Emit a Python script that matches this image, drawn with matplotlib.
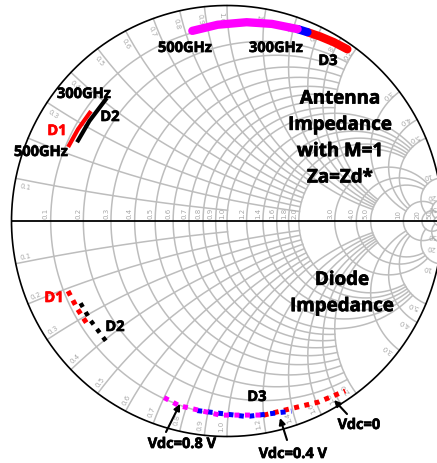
import numpy as np
import matplotlib.pyplot as plt
import matplotlib.patheffects as pe

# Smith chart grid (value, cut-off), MATLAB smithplot style
grid_vals = [50, 20, 10, 5, 4, 3, 2, 1.8, 1.6, 1.4, 1.2, 1.0, 0.9, 0.8, 0.7, 0.6, 0.5, 0.4, 0.3, 0.2, 0.1]
grid_cut = [np.inf, 50, 20, 10, 10, 10, 5, 5, 5, 5, 5, 5, 2, 2, 2, 2, 2, 2, 2, 2, 1]
grid_labels = ['50', '20', '10', '5.0', '4.0', '3.0', '2.0', '1.8', '1.6', '1.4', '1.2', '1.0',
               '0.9', '0.8', '0.7', '0.6', '0.5', '0.4', '0.3', '0.2', '0.1']

# antenna impedance (normalised r, x), upper half
ant_d1_r = [0.108, 0.112, 0.117]
ant_d1_x = [0.219, 0.28, 0.349]
ant_d2_r = [0.127, 0.130, 0.132]
ant_d2_x = [0.243, 0.32, 0.415]
ant_d3_08_r = [0.092, 0.088, 0.084, 0.082, 0.080]
ant_d3_08_x = [0.83, 0.95, 1.10, 1.25, 1.43]
ant_d3_04_r = [0.080, 0.080]
ant_d3_04_x = [1.43, 1.51]
ant_d3_0_r = [0.080, 0.076, 0.070, 0.064]
ant_d3_0_x = [1.51, 1.62, 1.76, 1.92]

# diode impedance, lower half
dio_d1_r = [0.112, 0.116, 0.119]
dio_d1_x = [-0.208, -0.27, -0.335]
dio_d2_r = [0.131, 0.134, 0.136]
dio_d2_x = [-0.242, -0.32, -0.405]
dio_d3_08_r = [0.104, 0.097, 0.100, 0.106]
dio_d3_08_x = [-0.70, -0.77, -0.96, -1.21]
dio_d3_04_r = [0.100, 0.102, 0.104]
dio_d3_04_x = [-0.85, -1.10, -1.39]
dio_d3_0_r = [0.106, 0.110, 0.094]
dio_d3_0_x = [-1.20, -1.62, -1.91]


def gamma(r, x):
    z = np.asarray(r) + 1j * np.asarray(x)
    return (z - 1) / (z + 1)


W, H = 437, 464
cx, cy, R = 227, 222, 215.5  # chart centre / radius in pixels

fig = plt.figure(figsize=(W / 100, H / 100), dpi=100)
ax = fig.add_axes([0, 0, 1, 1])
ax.set_xlim(-cx / R, (W - cx) / R)
ax.set_ylim(-(H - cy) / R, cy / R)
ax.axis('off')

gcol = '#bdbdbd'
lcol = '#a8a8a8'

# grid
for v, cut, lab in zip(grid_vals, grid_cut, grid_labels):
    t = np.linspace(-np.arctan(cut), np.arctan(cut), 400)
    g = gamma(v, np.tan(t))
    ax.plot(g.real, g.imag, color=gcol, lw=1.1, zorder=1)
    for s in (1, -1):
        t = np.linspace(0, np.arctan(cut), 400)
        g = gamma(np.tan(t), s * v)
        ax.plot(g.real, g.imag, color=gcol, lw=1.1, zorder=1)
        # rim label
        g0 = gamma(0, s * v)
        th = np.angle(g0)
        th2 = th + s * 0.012
        ax.text(0.975 * np.cos(th2), 0.975 * np.sin(th2), lab, fontsize=5, color=lcol,
                rotation=np.degrees(th) + 180, rotation_mode='anchor',
                ha='left', va='bottom' if s < 0 else 'top', zorder=2)
    gr = (v - 1) / (v + 1)
    ax.text(gr - 0.008, 0.012, lab, fontsize=5, color=lcol, rotation=90,
            rotation_mode='anchor', ha='left', va='bottom', zorder=2)

th = np.linspace(0, 2 * np.pi, 600)
ax.plot(np.cos(th), np.sin(th), color='black', lw=1.2, zorder=3)
ax.plot([-1, 1], [0, 0], color='black', lw=1.3, zorder=3)

# antenna impedance
g = gamma(ant_d1_r, ant_d1_x)
ax.plot(g.real, g.imag, color='red', lw=3, solid_capstyle='butt', zorder=4)
g = gamma(ant_d2_r, ant_d2_x)
ax.plot(g.real, g.imag, color='black', lw=3, solid_capstyle='butt', zorder=4)
g = gamma(ant_d3_0_r, ant_d3_0_x)
ax.plot(g.real, g.imag, color='red', lw=6, solid_capstyle='round', zorder=4)
g = gamma(ant_d3_04_r, ant_d3_04_x)
ax.plot(g.real, g.imag, color='blue', lw=6, solid_capstyle='round', zorder=5)
g = gamma(ant_d3_08_r, ant_d3_08_x)
ax.plot(g.real, g.imag, color='magenta', lw=6, solid_capstyle='round', zorder=5)

# diode impedance (dotted)
dots = (0, (1, 1.1))
g = gamma(dio_d1_r, dio_d1_x)
ax.plot(g.real, g.imag, color='red', lw=3.6, ls=dots, dash_capstyle='butt', zorder=4)
g = gamma(dio_d2_r, dio_d2_x)
ax.plot(g.real, g.imag, color='black', lw=3.2, ls=(1.2, (1, 1.3)), dash_capstyle='butt', zorder=4)
g = gamma(dio_d3_0_r, dio_d3_0_x)
ax.plot(g.real, g.imag, color='red', lw=3.6, ls=dots, dash_capstyle='butt', zorder=4)
g = gamma(dio_d3_04_r, dio_d3_04_x)
ax.plot(g.real, g.imag, color='blue', lw=3.6, ls=dots, dash_capstyle='butt', zorder=4)
g = gamma(dio_d3_08_r, dio_d3_08_x)
ax.plot(g.real, g.imag, color='magenta', lw=3.6, ls=dots, dash_capstyle='butt', zorder=5)


def fxy(px, py):
    return px / W, 1 - py / H


font = 'Open Sans'
heavy = [pe.withStroke(linewidth=0.5, foreground='black')]
labels = [
    ('500GHz', 185, 49, 'black'), ('300GHz', 276, 49, 'black'), ('D3', 328, 62, 'black'),
    ('300GHz', 84, 95, 'black'), ('D2', 110, 118, 'black'), ('D1', 57, 132, 'red'),
    ('500GHz', 41, 153, 'black'),
    ('D1', 54, 299, 'red'), ('D2', 115, 328, 'black'), ('D3', 257, 398, 'black'),
    ('Vdc=0.8 V', 182, 445, 'black'), ('Vdc=0.4 V', 293, 455, 'black'), ('Vdc=0', 359, 426, 'black'),
]
for txt, px, py, c in labels:
    ax.text(*fxy(px, py), txt, transform=fig.transFigure, ha='center', va='center',
            fontsize=10.5, fontweight='bold', color=c, family=font, zorder=6,
            path_effects=[pe.withStroke(linewidth=0.5, foreground=c)])

ax.text(*fxy(340, 139), 'Antenna\nImpedance\nwith M=1\nZa=Zd*', transform=fig.transFigure,
        ha='center', va='center', fontsize=13.5, fontweight='bold', family=font,
        linespacing=1.42, zorder=6, path_effects=heavy)
ax.text(*fxy(342, 294), 'Diode\nImpedance', transform=fig.transFigure,
        ha='center', va='center', fontsize=13.5, fontweight='bold', family=font,
        linespacing=1.42, zorder=6, path_effects=heavy)

arrows = [((166, 433), (180, 405)), ((287, 441), (280, 419)), ((347, 415), (334, 401))]
for tail, head in arrows:
    ax.annotate('', xy=fxy(*head), xytext=fxy(*tail), xycoords='figure fraction',
                textcoords='figure fraction',
                arrowprops=dict(arrowstyle='-|>', lw=1.5, color='black', mutation_scale=9,
                                shrinkA=0, shrinkB=0), zorder=6)

fig.savefig('out.png', dpi=100)
